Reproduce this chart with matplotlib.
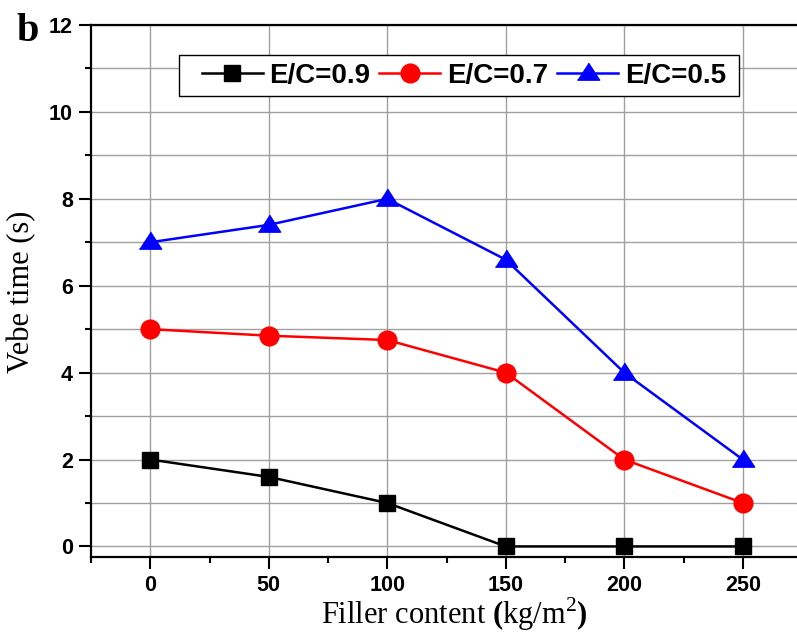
import numpy as np
import matplotlib
matplotlib.use('Agg')
import matplotlib.pyplot as plt
from matplotlib.patches import Rectangle
from matplotlib.ticker import MultipleLocator

plt.rcParams['font.family'] = 'Liberation Sans'
plt.rcParams['font.weight'] = 'bold'
plt.rcParams['mathtext.fontset'] = 'custom'
plt.rcParams['mathtext.rm'] = 'Liberation Serif:weight=normal'
plt.rcParams['mathtext.bf'] = 'Liberation Serif:weight=bold'

# filler content (kg/m2) vs Vebe time (s) for three E/C ratios
filler = [0, 50, 100, 150, 200, 250]
vebe_09 = [2.0, 1.6, 1.0, 0.0, 0.0, 0.0]
vebe_07 = [5.0, 4.85, 4.75, 4.0, 2.0, 1.0]
vebe_05 = [7.0, 7.4, 8.0, 6.6, 4.0, 2.0]
labels = ['E/C=0.9', 'E/C=0.7', 'E/C=0.5']

W, H = 797, 638
fig = plt.figure(figsize=(W / 100, H / 100), dpi=100)
ax = fig.add_axes([91 / W, 1 - 557.3 / H, (802 - 91) / W, (557.3 - 25) / H])

tri = [(-1, -0.6), (1, -0.6), (0, 0.94)]
ax.plot(filler, vebe_09, color='black', lw=1.8, marker='s', ms=11, label=labels[0], zorder=3)
ax.plot(filler, vebe_07, color='red', lw=1.8, marker='o', ms=13.5, label=labels[1], zorder=3)
ax.plot(filler, vebe_05, color='blue', lw=1.8, marker=tri, ms=16, label=labels[2], zorder=3)

ax.set_xlim(-25, 275)
ax.set_ylim(-0.25, 12)
ax.xaxis.set_major_locator(MultipleLocator(50))
ax.xaxis.set_minor_locator(MultipleLocator(25))
ax.yaxis.set_major_locator(MultipleLocator(2))
ax.yaxis.set_minor_locator(MultipleLocator(1))

ax.grid(which='major', axis='x', color='#a0a0a0', lw=1.0)
ax.grid(which='both', axis='y', color='#a0a0a0', lw=1.0)
ax.set_axisbelow(True)

for s in ['left', 'bottom', 'top']:
    ax.spines[s].set_linewidth(1.6)
ax.spines['right'].set_visible(False)

ax.tick_params(which='major', direction='out', length=8.5, width=1.5, pad=4.5, labelsize=15.5)
ax.tick_params(which='minor', direction='out', length=4.3, width=1.5)
ax.tick_params(top=False, right=False)

ax.set_xlabel(r'Filler content $\mathbf{(}\mathrm{kg/m}^{2}\mathbf{)}$',
              family='Liberation Serif', fontweight='normal', fontsize=22)
ax.set_ylabel('Vebe time (s)', family='Liberation Serif', fontweight='normal', fontsize=22)
ax.xaxis.set_label_coords(0.511, -0.072)
ax.yaxis.set_label_coords(-0.077, 0.499)

# legend box drawn separately so the left margin can be wider than the top one
ax.add_patch(Rectangle((179 / W, 1 - 95.5 / H), (738.5 - 179) / W, 40.5 / H,
                       transform=fig.transFigure, facecolor='white', clip_on=False,
                       edgecolor='black', lw=1.0, zorder=5))
leg = ax.legend(loc='center left', bbox_to_anchor=(201.5 / W, 1 - 75.5 / H),
                bbox_transform=fig.transFigure, ncol=3, frameon=False,
                borderaxespad=0, borderpad=0, handlelength=2.2, handletextpad=0.24,
                columnspacing=0.32,
                prop={'family': 'Liberation Sans', 'weight': 'bold', 'size': 20})
leg.set_zorder(6)

fig.text(17 / W, 1 - 41 / H, 'b', family='Liberation Serif', fontweight='bold',
         fontsize=29, va='baseline', ha='left')

fig.savefig('out.png', dpi=100)
